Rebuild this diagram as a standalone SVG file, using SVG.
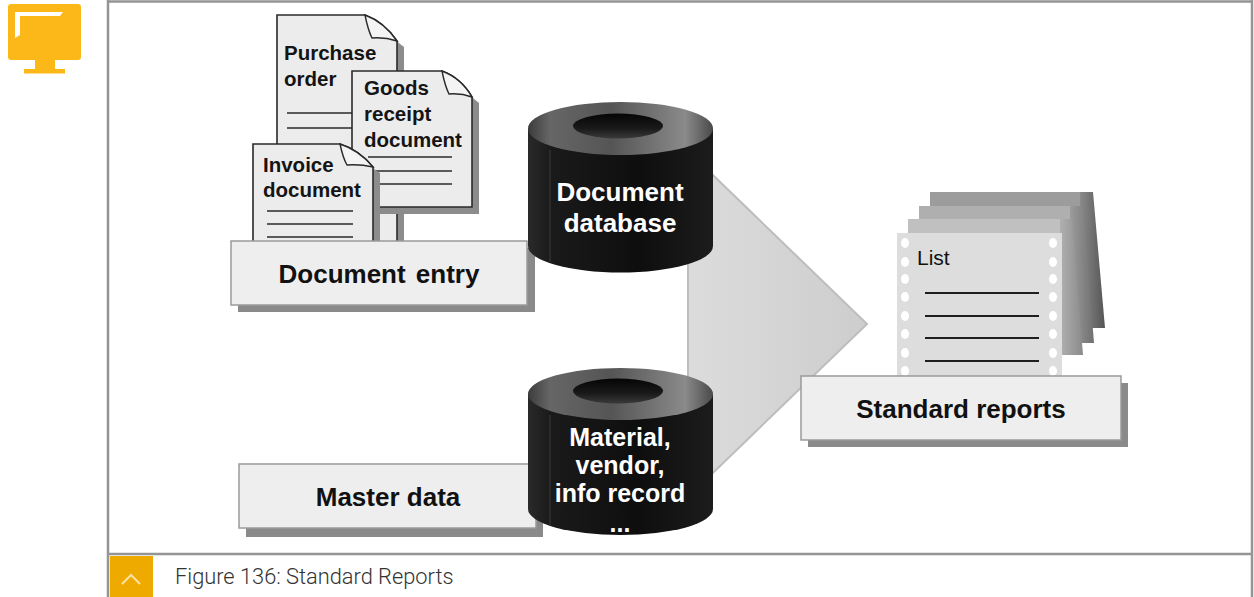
<svg xmlns="http://www.w3.org/2000/svg" width="1254" height="597" viewBox="0 0 1254 597">
  <style>
    .frame { stroke: #959595; stroke-width: 2.5; fill: none; }
    .doc { fill: #ececec; stroke: #2a2a2a; stroke-width: 1.6; }
    .docShadow { fill: #8c8c8c; }
    .fold { fill: #f4f4f4; stroke: #2a2a2a; stroke-width: 1.4; }
    .docText { font-family: "Liberation Sans", Arial, sans-serif; font-weight: bold; font-size: 20.5px; fill: #141414; }
    .rule { stroke: #2a2a2a; stroke-width: 1.5; }
    .box { fill: #eeeeee; stroke: #9a9a9a; stroke-width: 1.5; }
    .boxShadow { fill: #8a8a8a; }
    .boxText { font-family: "Liberation Sans", Arial, sans-serif; font-weight: bold; font-size: 26px; fill: #111; text-anchor: middle; }
    .cylText { font-family: "Liberation Sans", Arial, sans-serif; font-weight: bold; font-size: 26px; fill: #ffffff; text-anchor: middle; }
    .cylTextSm { font-family: "Liberation Sans", Arial, sans-serif; font-weight: bold; font-size: 25px; fill: #ffffff; text-anchor: middle; }
    .hole { fill: url(#holeGrad); }
    .listRule { stroke: #1e1e1e; stroke-width: 1.8; }
    .perf { fill: #ffffff; }
    .caption { font-family: Roboto, "Liberation Sans", Arial, sans-serif; font-weight: 300; font-size: 21.8px; fill: #333333; }
  </style>
  <defs>
    <linearGradient id="cylBody" x1="0" y1="0" x2="1" y2="0">
      <stop offset="0" stop-color="#2a2a2a"/>
      <stop offset="0.12" stop-color="#1a1a1a"/>
      <stop offset="0.6" stop-color="#0e0e0e"/>
      <stop offset="1" stop-color="#1c1c1c"/>
    </linearGradient>
    <linearGradient id="cylTop" x1="0" y1="0" x2="1" y2="0">
      <stop offset="0" stop-color="#3c3c3c"/>
      <stop offset="0.12" stop-color="#666666"/>
      <stop offset="0.45" stop-color="#555555"/>
      <stop offset="0.85" stop-color="#8a8a8a"/>
      <stop offset="1" stop-color="#4a4a4a"/>
    </linearGradient>
    <linearGradient id="holeGrad" x1="0" y1="0" x2="0" y2="1">
      <stop offset="0" stop-color="#050505"/>
      <stop offset="0.6" stop-color="#1a1a1a"/>
      <stop offset="1" stop-color="#3a3a3a"/>
    </linearGradient>
    <linearGradient id="arrowGrad" x1="0" y1="0" x2="1" y2="0">
      <stop offset="0" stop-color="#dcdcdc"/>
      <stop offset="1" stop-color="#cdcdcd"/>
    </linearGradient>
    <linearGradient id="side4" x1="0" y1="0" x2="1" y2="0">
      <stop offset="0" stop-color="#8a8a8a"/>
      <stop offset="1" stop-color="#555555"/>
    </linearGradient>
    <linearGradient id="side3" x1="0" y1="0" x2="1" y2="0">
      <stop offset="0" stop-color="#9c9c9c"/>
      <stop offset="1" stop-color="#707070"/>
    </linearGradient>
    <linearGradient id="side2" x1="0" y1="0" x2="1" y2="0">
      <stop offset="0" stop-color="#b0b0b0"/>
      <stop offset="1" stop-color="#8a8a8a"/>
    </linearGradient>
  </defs>

  <rect x="0" y="0" width="1254" height="597" fill="#ffffff"/>

  <!-- slide frame and caption bar -->
  <g id="frame">
    <line class="frame" x1="108" y1="1.5" x2="1252" y2="1.5"/>
    <line class="frame" x1="108" y1="0" x2="108" y2="597"/>
    <line class="frame" x1="1252" y1="0" x2="1252" y2="597"/>
    <line class="frame" x1="108" y1="554" x2="1252" y2="554"/>
  </g>

  <!-- presentation icon -->
  <g id="monitor-icon">
    <rect x="8" y="4" width="73" height="56" rx="3" fill="#fbb818"/>
    <rect x="35" y="59" width="20" height="11" fill="#fbb818"/>
    <rect x="24" y="69" width="41" height="4.5" fill="#fbb818"/>
    <polygon points="15,12 63,12 60,16 20,16 20,35 15,38" fill="#ffffff"/>
  </g>

  <g id="caption">
    <rect x="110" y="556" width="43" height="41" fill="#efaa00"/>
    <polyline points="122,584 131,575 140,584" fill="none" stroke="#fbe3a6" stroke-width="2"/>
    <text class="caption" x="175" y="584">Figure 136: Standard Reports</text>
  </g>

  <!-- flow arrow into the reports -->
  <g id="connectors">
    <polygon points="688,151 867,324 688,497" fill="url(#arrowGrad)" stroke="#bdbdbd" stroke-width="2"/>
  </g>

  <!-- source documents -->
  <g id="doc-purchase-order">
    <path class="docShadow" d="M370,21 L404,47 L404,250 L290,250 Z"/>
    <path class="doc" d="M277,15 H365 Q384,22 397,41 V250 H277 Z"/>
    <path class="fold" d="M365,15 Q368,30 372,38 Q385,37 397,41 Q384,22 365,15 Z"/>
    <text class="docText" x="284" y="60">Purchase</text>
    <text class="docText" x="284" y="86">order</text>
    <line class="rule" x1="287" y1="113" x2="360" y2="113"/>
    <line class="rule" x1="287" y1="128" x2="360" y2="128"/>
  </g>

  <g id="doc-goods-receipt">
    <path class="docShadow" d="M447,77 L479,103 V214 H359 V207 H472 Z"/>
    <path class="doc" d="M352,71 H442 Q461,78 472,97 V207 H352 Z"/>
    <path class="fold" d="M442,71 Q445,86 449,94 Q461,93 472,97 Q461,78 442,71 Z"/>
    <text class="docText" x="364" y="95">Goods</text>
    <text class="docText" x="364" y="121">receipt</text>
    <text class="docText" x="364" y="147">document</text>
    <line class="rule" x1="368" y1="157" x2="452" y2="157"/>
    <line class="rule" x1="368" y1="171" x2="452" y2="171"/>
    <line class="rule" x1="368" y1="184" x2="452" y2="184"/>
  </g>

  <g id="doc-invoice">
    <path class="docShadow" d="M345,150 L380,173 V250 H373 Z"/>
    <path class="doc" d="M253,144 H340 Q359,150 373,167 V250 H253 Z"/>
    <path class="fold" d="M340,144 Q343,158 347,165 Q360,164 373,167 Q359,150 340,144 Z"/>
    <text class="docText" x="263" y="172">Invoice</text>
    <text class="docText" x="263" y="197">document</text>
    <line class="rule" x1="267" y1="211" x2="353" y2="211"/>
    <line class="rule" x1="267" y1="224" x2="353" y2="224"/>
    <line class="rule" x1="267" y1="237" x2="353" y2="237"/>
  </g>

  <g id="document-entry">
    <rect class="boxShadow" x="238" y="248" width="297" height="64"/>
    <rect class="box" x="231" y="241" width="296" height="64"/>
    <text class="boxText" x="379" y="283" word-spacing="3">Document entry</text>
  </g>

  <g id="master-data">
    <rect class="boxShadow" x="246" y="471" width="297" height="66"/>
    <rect class="box" x="239" y="464" width="297" height="64"/>
    <text class="boxText" x="388" y="506">Master data</text>
  </g>

  <!-- document database cylinder -->
  <g id="document-database">
    <path d="M528,128.5 V246 A92.5,26.5 0 0 0 713,246 V128.5 Z" fill="url(#cylBody)"/>
    <line x1="550" y1="150" x2="550" y2="262" stroke="#3c3c3c" stroke-width="1"/>
    <ellipse cx="620.5" cy="128.5" rx="92.5" ry="26.5" fill="url(#cylTop)"/>
    <ellipse class="hole" cx="618" cy="126" rx="45" ry="12.5"/>
    <text class="cylText" x="620" y="201">Document</text>
    <text class="cylText" x="620" y="232">database</text>
  </g>

  <!-- master data cylinder -->
  <g id="master-database">
    <path d="M528,394 V509 A92.5,26 0 0 0 713,509 V394 Z" fill="url(#cylBody)"/>
    <line x1="550" y1="415" x2="550" y2="526" stroke="#3c3c3c" stroke-width="1"/>
    <ellipse cx="620.5" cy="394" rx="92.5" ry="26" fill="url(#cylTop)"/>
    <ellipse class="hole" cx="618" cy="391" rx="45" ry="12.5"/>
    <text class="cylTextSm" x="620" y="446">Material,</text>
    <text class="cylTextSm" x="620" y="474">vendor,</text>
    <text class="cylTextSm" x="620" y="502">info record</text>
    <text class="cylTextSm" x="620" y="532">...</text>
  </g>

  <!-- report stack -->
  <g id="report-list">
    <rect x="930" y="192" width="163" height="136" fill="#9c9c9c"/>
    <polygon points="1080,192 1093,192 1105,328 1080,328" fill="url(#side4)"/>
    <rect x="919" y="206" width="164" height="137" fill="#afafaf"/>
    <polygon points="1070,206 1083,206 1094,343 1070,343" fill="url(#side3)"/>
    <rect x="908" y="219" width="164" height="136" fill="#c0c0c0"/>
    <polygon points="1060,219 1072,219 1083,355 1060,355" fill="url(#side2)"/>
    <rect x="897" y="233" width="165" height="160" fill="#dddddd"/>
    <g class="perf">
      <ellipse cx="905" cy="243" rx="4" ry="5"/>
      <ellipse cx="905" cy="262" rx="4" ry="5"/>
      <ellipse cx="905" cy="279" rx="4" ry="5"/>
      <ellipse cx="905" cy="297" rx="4" ry="5"/>
      <ellipse cx="905" cy="316" rx="4" ry="5"/>
      <ellipse cx="905" cy="334" rx="4" ry="5"/>
      <ellipse cx="905" cy="353" rx="4" ry="5"/>
      <ellipse cx="905" cy="371" rx="4" ry="5"/>
      <ellipse cx="1053" cy="243" rx="4" ry="5"/>
      <ellipse cx="1053" cy="262" rx="4" ry="5"/>
      <ellipse cx="1053" cy="279" rx="4" ry="5"/>
      <ellipse cx="1053" cy="297" rx="4" ry="5"/>
      <ellipse cx="1053" cy="316" rx="4" ry="5"/>
      <ellipse cx="1053" cy="334" rx="4" ry="5"/>
      <ellipse cx="1053" cy="353" rx="4" ry="5"/>
      <ellipse cx="1053" cy="371" rx="4" ry="5"/>
    </g>
    <text x="917" y="265" font-family="Liberation Sans, Arial, sans-serif" font-size="21" fill="#111">List</text>
    <line class="listRule" x1="925" y1="293" x2="1039" y2="293"/>
    <line class="listRule" x1="925" y1="316" x2="1039" y2="316"/>
    <line class="listRule" x1="925" y1="338" x2="1039" y2="338"/>
    <line class="listRule" x1="925" y1="361" x2="1039" y2="361"/>
  </g>

  <g id="standard-reports">
    <rect class="boxShadow" x="808" y="383" width="320" height="64"/>
    <rect class="box" x="801" y="376" width="320" height="64"/>
    <text class="boxText" x="961" y="418">Standard reports</text>
  </g>
</svg>
